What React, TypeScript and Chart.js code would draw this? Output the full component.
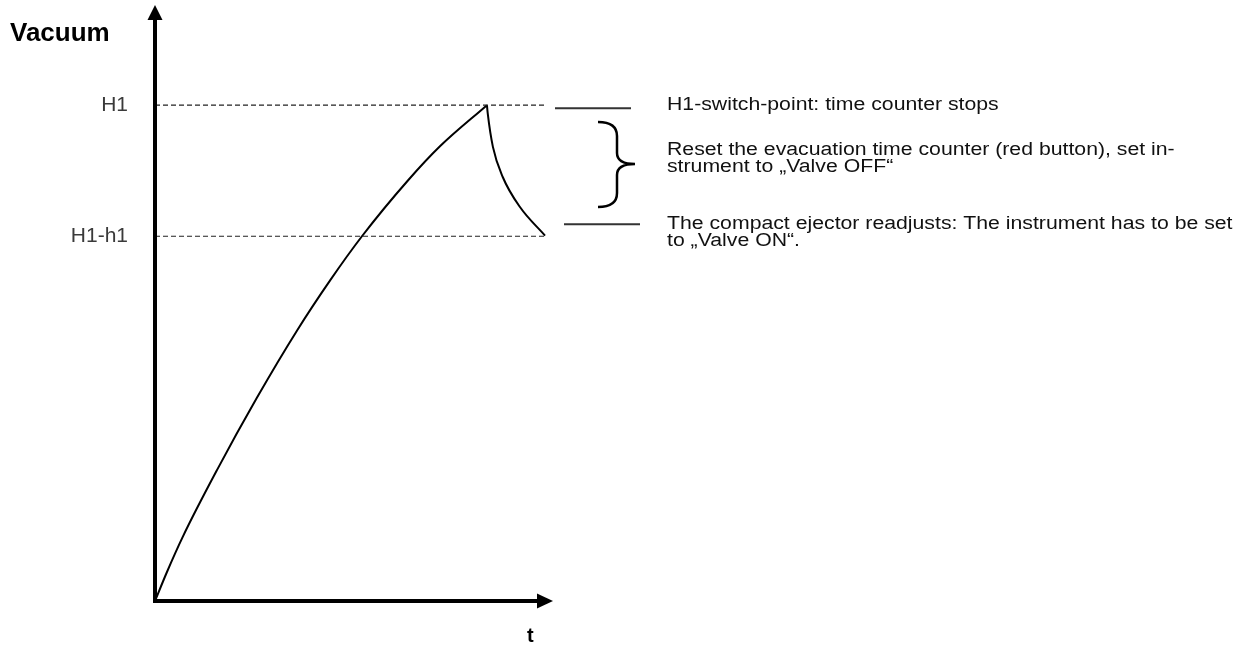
import React, { useEffect, useRef } from "react";
import { Chart, registerables } from "chart.js";

Chart.register(...registerables);

// ---- data (data units: t 0..100, vacuum 0..100) ----
const riseT = [0, 2.9, 7.0, 15.6, 25.6, 35.7, 44.0, 52.0, 63.6, 71.6, 83.4];
const riseV = [0, 4.7, 10.8, 22.0, 34.1, 45.4, 53.8, 61.2, 70.6, 76.3, 83.2];
const dropT = [83.4, 83.6, 84.9, 87.4, 91.7, 98.0];
const dropV = [83.2, 81.8, 76.2, 71.1, 66.1, 61.3];
const levelValues = [83.2, 61.2];
const levelLabels = ["H1", "H1-h1"];
const levelEndT = 98;
const yTitle = "Vacuum";
const xTitle = "t";
const noteSwitch = ["H1-switch-point: time counter stops"];
const noteReset = [
  "Reset the evacuation time counter (red button), set in-",
  "strument to „Valve OFF“",
];
const noteReadjust = [
  "The compact ejector readjusts: The instrument has to be set",
  "to „Valve ON“.",
];

const FONT = '"Liberation Sans", Arial, sans-serif';

const toPts = (xs: number[], ys: number[]) => xs.map((x, i) => ({ x, y: ys[i] }));

const decorPlugin = {
  id: "decor",
  afterDatasetsDraw(chart: any) {
    const ctx: CanvasRenderingContext2D = chart.ctx;
    const xs = chart.scales.x;
    const ys = chart.scales.y;
    const x0 = xs.getPixelForValue(0);
    const y0 = ys.getPixelForValue(0);
    const xEnd = xs.getPixelForValue(100);
    const yTop = ys.getPixelForValue(100);
    ctx.save();

    // y axis with arrow
    ctx.strokeStyle = "#000";
    ctx.fillStyle = "#000";
    ctx.lineWidth = 4;
    ctx.lineCap = "butt";
    ctx.beginPath();
    ctx.moveTo(x0, y0 + 2);
    ctx.lineTo(x0, yTop + 12);
    ctx.stroke();
    ctx.beginPath();
    ctx.moveTo(x0, yTop);
    ctx.lineTo(x0 - 7.5, yTop + 15);
    ctx.lineTo(x0 + 7.5, yTop + 15);
    ctx.closePath();
    ctx.fill();

    // x axis with arrow
    ctx.beginPath();
    ctx.moveTo(x0 - 2, y0);
    ctx.lineTo(xEnd - 12, y0);
    ctx.stroke();
    ctx.beginPath();
    ctx.moveTo(xEnd, y0);
    ctx.lineTo(xEnd - 16, y0 - 7.5);
    ctx.lineTo(xEnd - 16, y0 + 7.5);
    ctx.closePath();
    ctx.fill();

    // axis titles
    ctx.textBaseline = "alphabetic";
    ctx.textAlign = "left";
    ctx.font = `bold 26px ${FONT}`;
    ctx.fillStyle = "#000";
    ctx.fillText(yTitle, 10, 41);
    ctx.font = `bold 20px ${FONT}`;
    ctx.fillText(xTitle, 527, 642);

    // level labels
    ctx.font = `20px ${FONT}`;
    ctx.fillStyle = "#3a3a3a";
    ctx.textAlign = "right";
    ctx.textBaseline = "middle";
    levelValues.forEach((v, i) => {
      ctx.save();
      ctx.translate(x0 - 27, ys.getPixelForValue(v));
      ctx.scale(1.05, 1);
      ctx.fillText(levelLabels[i], 0, 0);
      ctx.restore();
    });

    // annotation lines
    const yH1 = ys.getPixelForValue(levelValues[0]);
    const yH2 = ys.getPixelForValue(levelValues[1]);
    ctx.strokeStyle = "#333";
    ctx.lineWidth = 2;
    ctx.beginPath();
    ctx.moveTo(555, yH1 + 3);
    ctx.lineTo(631, yH1 + 3);
    ctx.moveTo(564, yH2 - 12);
    ctx.lineTo(640, yH2 - 12);
    ctx.stroke();

    // brace
    ctx.strokeStyle = "#000";
    ctx.lineWidth = 2.5;
    ctx.beginPath();
    ctx.moveTo(598, 122);
    ctx.quadraticCurveTo(617, 122, 617, 136);
    ctx.lineTo(617, 153);
    ctx.quadraticCurveTo(617, 164, 635, 164);
    ctx.quadraticCurveTo(617, 164, 617, 175);
    ctx.lineTo(617, 193);
    ctx.quadraticCurveTo(617, 207, 598, 207);
    ctx.stroke();

    // notes (wide lettering as in the reference)
    ctx.font = `18px ${FONT}`;
    ctx.fillStyle = "#111";
    ctx.textAlign = "left";
    ctx.textBaseline = "middle";
    const sx = 1.18;
    const drawNote = (lines: string[], yFirst: number) => {
      lines.forEach((l, i) => {
        ctx.save();
        ctx.translate(667, yFirst + i * 17);
        ctx.scale(sx, 1);
        ctx.fillText(l, 0, 0);
        ctx.restore();
      });
    };
    drawNote(noteSwitch, yH1);
    drawNote(noteReset, 150);
    drawNote(noteReadjust, 224);

    ctx.restore();
  },
};

export default function App() {
  const ref = useRef<HTMLCanvasElement | null>(null);
  useEffect(() => {
    if (!ref.current) return;
    const dashed = levelValues.map((v) => ({
      data: [
        { x: 0, y: v },
        { x: levelEndT, y: v },
      ],
      showLine: true,
      borderColor: "#222",
      borderWidth: 1.2,
      borderDash: [5, 3],
      pointRadius: 0,
    }));
    const chart = new Chart(ref.current, {
      type: "scatter",
      data: {
        datasets: [
          ...dashed,
          {
            data: toPts(riseT, riseV),
            showLine: true,
            borderColor: "#000",
            borderWidth: 2,
            pointRadius: 0,
            cubicInterpolationMode: "monotone",
          },
          {
            data: toPts(dropT, dropV),
            showLine: true,
            borderColor: "#000",
            borderWidth: 2,
            pointRadius: 0,
            cubicInterpolationMode: "monotone",
          },
        ] as any,
      },
      options: {
        animation: false,
        responsive: true,
        maintainAspectRatio: false,
        layout: { padding: { left: 155, right: 695, top: 5, bottom: 44 } },
        plugins: { legend: { display: false }, tooltip: { enabled: false } },
        scales: {
          x: { type: "linear", min: 0, max: 100, display: false },
          y: { type: "linear", min: 0, max: 100, display: false },
        },
      },
      plugins: [decorPlugin],
    });
    return () => chart.destroy();
  }, []);
  return (
    <div style={{ position: "fixed", left: 0, top: 0, width: 1248, height: 645, background: "#fff" }}>
      <canvas ref={ref} />
    </div>
  );
}
